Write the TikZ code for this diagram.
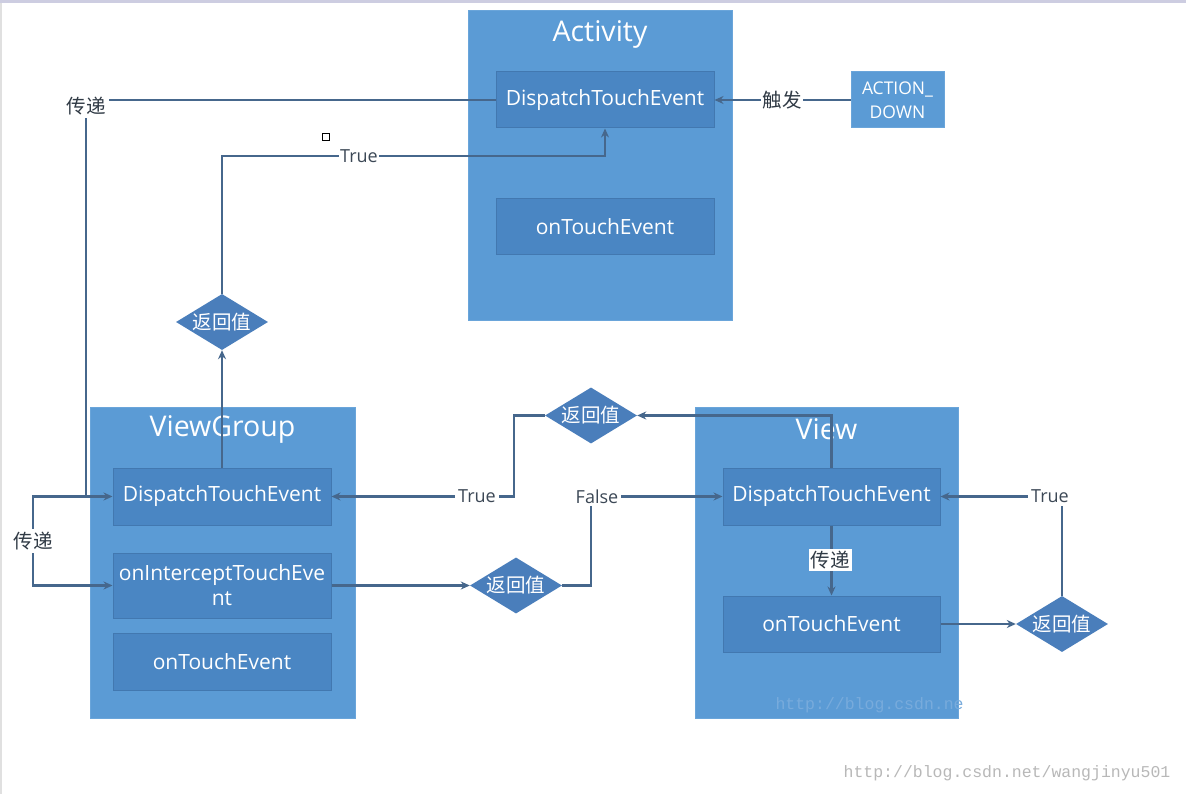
\documentclass[tikz,border=0pt]{standalone}
\usepackage{fontspec}
\setmainfont{Open Sans}
\newfontfamily\cjk{Noto Sans CJK SC}
\newfontfamily\wmfont{Liberation Mono}
\usetikzlibrary{shapes.geometric,arrows.meta}
\definecolor{outerblue}{HTML}{5B9BD5}
\definecolor{outerline}{HTML}{6AA5DA}
\definecolor{innerblue}{HTML}{4A86C3}
\definecolor{innerline}{HTML}{4278B0}
\definecolor{diafill}{HTML}{4A7EBB}
\definecolor{linecol}{HTML}{46678C}
\definecolor{labcol}{HTML}{3C4856}
\tikzset{
  outerbox/.style={fill=outerblue, draw=outerline, line width=1pt},
  innerbox/.style={fill=innerblue, draw=innerline, line width=1pt, text=white,
     font=\fontsize{21}{25}\selectfont, align=center, inner sep=0pt},
  titletext/.style={text=white, font=\fontsize{28.5}{33}\selectfont},
  decision/.style={shape=diamond, aspect=1.64, inner sep=0pt, fill=diafill,
     text=white, font=\cjk\fontsize{19.5}{22}\selectfont, minimum width=92pt, minimum height=56pt},
  conn/.style={draw=linecol, line width=2.3pt},
  arr/.style={conn, -{Stealth[length=9pt,width=8pt]}},
  lab/.style={fill=white, text=labcol, inner sep=1.5pt, font=\fontsize{18}{20}\selectfont},
  cnlab/.style={fill=white, text=labcol!80!black, inner sep=1.5pt, font=\cjk\fontsize{19.5}{22}\selectfont}
}
\begin{document}
\begin{tikzpicture}[x=1pt,y=-1pt]
\useasboundingbox (0,0) rectangle (1186,794);
\fill[white] (0,0) rectangle (1186,794);
% frame edges of the screenshot
\draw[color=black!12, line width=1.5pt] (1,0) -- (1,794);
\draw[color={rgb,255:red,205;green,205;blue,225}, line width=3pt] (0,1.5) -- (1186,1.5);

% ---- Activity ----
\node[outerbox, minimum width=264pt, minimum height=310pt] (act) at (600,166) {};
\node[titletext] (actT) at (600,34) {Activity};
\node[innerbox, minimum width=218pt, minimum height=56pt] (adisp) at (605,100) {DispatchTouchEvent};
\node[innerbox, minimum width=218pt, minimum height=56pt] (atouch) at (605,227) {onTouchEvent};
\node[fill=outerblue, draw=outerline, line width=1pt, text=white, align=center,
      minimum width=93pt, minimum height=56pt, inner sep=0pt,
      font=\fontsize{17.5}{24}\selectfont] (action) at (897.5,100) {ACTION\_\\DOWN};

% ---- ViewGroup ----
\node[outerbox, minimum width=265pt, minimum height=311pt] (vg) at (222.5,562.5) {};
\node[titletext] (vgT) at (222.5,429) {ViewGroup};
\node[innerbox, minimum width=218pt, minimum height=57pt] (vgdisp) at (222,496.5) {DispatchTouchEvent};
\node[innerbox, minimum width=218pt, minimum height=65pt] (vgint) at (222,585.5) {onInterceptTouchEve\\nt};
\node[innerbox, minimum width=218pt, minimum height=57pt] (vgtouch) at (222,661.5) {onTouchEvent};

% ---- View ----
\node[outerbox, minimum width=263pt, minimum height=311pt] (view) at (826.5,562.5) {};
\node[titletext] (viewT) at (826.5,429) {View};
\node[innerbox, minimum width=217pt, minimum height=57pt] (vdisp) at (831.5,496.5) {DispatchTouchEvent};
\node[innerbox, minimum width=217pt, minimum height=56pt] (vtouch) at (831.5,624) {onTouchEvent};
\node[anchor=west, text={rgb,255:red,120;green,171;blue,220}, font=\wmfont\fontsize{16.5}{18}\selectfont] (wm1) at (772,705) {http://blog.csdn.ne};

% ---- decisions ----
\node[decision] (d1) at (222,322) {返回值};
\node[decision] (d2) at (591,415.5) {返回值};
\node[decision] (d3) at (516,585.5) {返回值};
\node[decision] (d4) at (1062,624) {返回值};

% ---- connectors ----
\coordinate (p1) at (86,100);
\coordinate (p2) at (33,496.5);
\coordinate (t1) at (222,156);
\coordinate (t2) at (514,415.5);
\coordinate (f1) at (591,585.5);
\coordinate (r1) at (1062,496.5);

\draw[arr] (action.west) -- (adisp.east);
\node[cnlab] (chufa) at (782,100) {触发};

\draw[arr] (adisp.west) -- (p1) -- (p1 |- vgdisp.west) -- (vgdisp.west);
\node[cnlab, inner sep=3pt] (pass1) at (86,106) {传递};

\draw[arr] (p1 |- vgdisp.west) -- (p2) -- (p2 |- vgint.west) -- (vgint.west);
\node[cnlab, inner sep=3pt] (pass2) at (33,541) {传递};

\draw[arr] (vgdisp.north) -- (d1.south);
\draw[arr] (d1.north) -- (t1) -- (t1 -| adisp.south) -- (adisp.south);
\node[lab] (true1) at (359,156) {True};

\draw[arr] (vdisp.north) |- (d2.east);
\draw[arr] (d2.west) -- (t2) |- (vgdisp.east);
\node[lab, inner sep=3pt] (true2) at (477,496.5) {True};

\draw[arr] (vgint.east) -- (d3.west);
\draw[arr] (d3.east) -- (f1) |- (vdisp.west);
\node[lab, inner sep=3pt] (false1) at (597,496.5) {False};

\draw[arr] (vdisp.south) -- (vtouch.north);
\node[cnlab, inner sep=2pt] (pass3) at (830,560) {传递};

\draw[arr] (vtouch.east) -- (d4.west);
\draw[arr] (d4.north) -- (r1) -- (vdisp.east);
\node[lab, inner sep=3pt] (true3) at (1050,496.5) {True};

% selection handle artefact
\node[draw=black, fill=white, line width=1pt, minimum size=7pt, inner sep=0pt] (handle) at (326,137) {};

% watermark
\node[text=black!28, font=\wmfont\fontsize{16.5}{18}\selectfont] (wm2) at (1007,773) {http://blog.csdn.net/wangjinyu501};
\end{tikzpicture}
\end{document}
